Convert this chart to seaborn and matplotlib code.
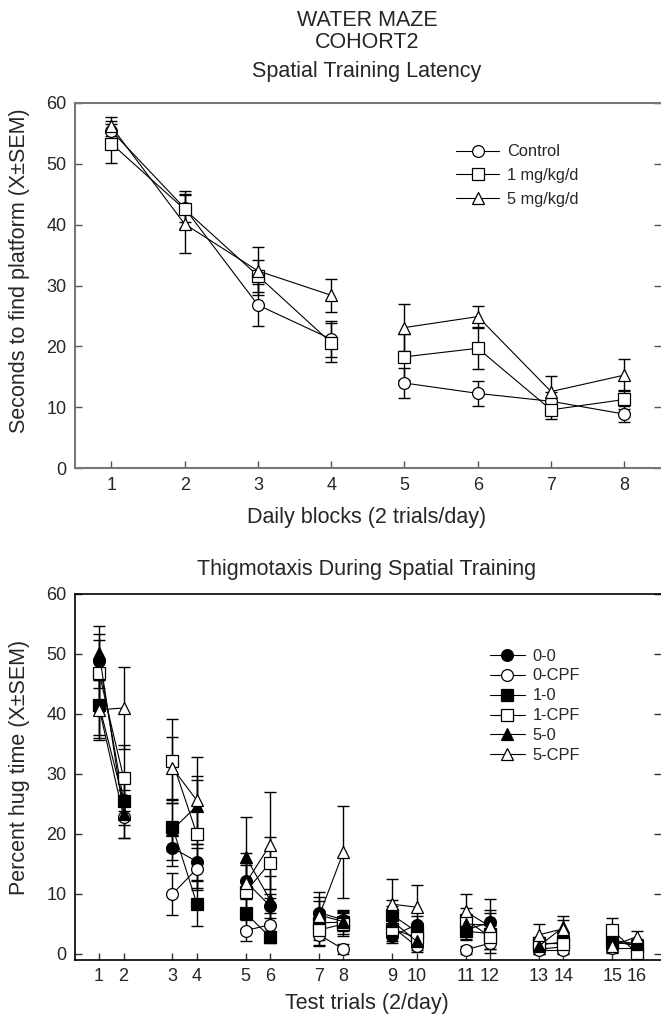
import numpy as np
import pandas as pd
import matplotlib
matplotlib.use("Agg")
import matplotlib.pyplot as plt
from matplotlib.lines import Line2D
import seaborn as sns

# ---------------- data ----------------
blocks = [1, 2, 3, 4, 5, 6, 7, 8]
lat_groups = ["Control", "1 mg/kg/d", "5 mg/kg/d"]
control_mean = [55.4, 42.7, 26.8, 21.2, 14.0, 12.3, 11.0, 8.9]
control_sem = [1.6, 2.3, 3.4, 2.9, 2.4, 2.0, 1.6, 1.3]
mg1_mean = [53.3, 42.5, 31.6, 20.6, 18.3, 19.7, 9.6, 11.3]
mg1_sem = [3.2, 3.0, 2.6, 3.2, 3.8, 3.4, 1.5, 1.6]
mg5_mean = [56.1, 40.1, 32.4, 28.4, 23.1, 24.9, 12.6, 15.3]
mg5_sem = [1.6, 4.7, 4.0, 2.7, 3.9, 1.7, 2.5, 2.6]

trials = list(range(1, 17))
hug_groups = ["0-0", "0-CPF", "1-0", "1-CPF", "5-0", "5-CPF"]
hug_00 = [48.8, 25.6, 17.7, 15.4, 12.1, 8.0, 6.9, 5.7, 3.0, 4.9, 4.0, 5.3, 0.8, 1.2, 2.3, 1.7]
hug_00_sem = [4.5, 3.0, 3.0, 3.0, 3.0, 2.0, 2.0, 1.5, 1.2, 1.5, 1.5, 2.0, 0.8, 1.0, 1.0, 0.8]
hug_0c = [41.0, 22.9, 10.0, 14.2, 3.9, 4.9, 3.2, 0.8, 4.5, 1.3, 0.7, 1.8, 0.6, 0.6, 1.0, 1.0]
hug_0c_sem = [5.0, 3.5, 3.5, 3.5, 1.8, 2.0, 1.8, 0.8, 1.5, 1.0, 0.7, 1.0, 0.6, 0.6, 0.8, 0.8]
hug_10 = [41.5, 25.5, 21.2, 8.4, 6.8, 2.8, 5.2, 5.3, 6.5, 3.7, 3.8, 3.4, 1.5, 2.0, 2.1, 1.4]
hug_10_sem = [5.0, 4.0, 4.0, 3.8, 2.5, 1.0, 2.0, 1.5, 2.5, 1.5, 1.5, 1.5, 0.8, 1.0, 1.0, 0.8]
hug_1c = [46.8, 29.4, 32.1, 20.0, 10.4, 15.2, 4.0, 5.0, 4.2, 2.7, 5.7, 2.9, 1.8, 1.7, 4.0, 0.2]
hug_1c_sem = [5.5, 5.5, 7.0, 9.0, 4.5, 4.3, 2.5, 2.0, 2.0, 1.5, 2.0, 2.0, 1.0, 1.0, 2.0, 0.5]
hug_50 = [50.2, 23.4, 20.7, 24.7, 16.2, 9.0, 6.5, 5.4, 5.5, 2.1, 5.0, 4.8, 1.3, 4.5, 1.9, 1.6]
hug_50_sem = [4.5, 4.0, 5.0, 5.0, 6.7, 4.0, 3.0, 2.0, 2.5, 1.5, 1.5, 2.0, 1.0, 1.8, 1.0, 0.8]
hug_5c = [40.7, 41.0, 31.0, 25.6, 11.8, 18.2, 6.3, 17.0, 8.3, 7.8, 7.1, 4.6, 3.2, 4.2, 1.3, 2.9]
hug_5c_sem = [5.0, 6.8, 5.2, 7.3, 5.0, 8.8, 4.0, 7.7, 4.2, 3.7, 2.9, 4.5, 1.8, 1.5, 1.0, 1.0]

# ---------------- style ----------------
sns.set_style("ticks")
plt.rcParams["font.family"] = ["Liberation Sans", "DejaVu Sans"]

fig = plt.figure(figsize=(6.61, 10.19), dpi=100)
ax1 = fig.add_axes([0.113, 0.5404, 0.887, 0.3588])
ax2 = fig.add_axes([0.113, 0.0579, 0.887, 0.3592])

MS = 8.5
LW = 0.8
CAP = 4
TICK_FS = 13
TXT_FS = 15.5
LEG_FS = 11.8
YLAB_FS = 15.5

# ---------------- top chart ----------------
lat_means = [control_mean, mg1_mean, mg5_mean]
lat_sems = [control_sem, mg1_sem, mg5_sem]
lat_markers = ["o", "s", "^"]
handles1 = []
for g, m, s, mk in zip(lat_groups, lat_means, lat_sems, lat_markers):
    df = pd.DataFrame({"block": blocks, "val": m, "sem": s})
    df["seg"] = np.where(df["block"] <= 4, 0, 1)
    ax1.errorbar(df["block"], df["val"], yerr=df["sem"], fmt="none",
                 ecolor="black", elinewidth=1.0, capsize=CAP, capthick=1.0, zorder=2)
    sns.lineplot(data=df, x="block", y="val", units="seg", estimator=None,
                 color="black", lw=LW, marker=mk, markersize=MS,
                 markerfacecolor="white", markeredgecolor="black",
                 markeredgewidth=0.9, ax=ax1, zorder=3)
    handles1.append(Line2D([], [], color="black", lw=LW, marker=mk, markersize=MS,
                           markerfacecolor="white", markeredgecolor="black",
                           markeredgewidth=0.9, label=g))

ax1.set_xlim(0.5, 8.5)
ax1.set_ylim(0, 60)
ax1.set_xticks(blocks)
ax1.set_yticks(range(0, 61, 10))
ax1.set_xlabel("")
ax1.set_ylabel("Seconds to find platform (X±SEM)", fontsize=YLAB_FS)
ax1.yaxis.set_label_coords(-0.076, 0.541)
for sp in ["left", "bottom", "top"]:
    ax1.spines[sp].set_color("#777777")
    ax1.spines[sp].set_linewidth(1.5)
ax1.spines["right"].set_visible(False)
ax1.tick_params(axis="both", direction="in", length=5, width=1.0,
                color="#555555", labelsize=TICK_FS, pad=6)
ax1.tick_params(axis="y", right=True)
ax1.legend(handles=handles1, loc="upper left", bbox_to_anchor=(0.651, 0.886),
           frameon=False, fontsize=LEG_FS, handlelength=2.6, handletextpad=0.47,
           labelspacing=0.53, borderpad=0, borderaxespad=0)

# ---------------- bottom chart ----------------
tr = np.array(trials)
pos = 3 * ((tr - 1) // 2) + (tr - 1) % 2
day = (tr - 1) // 2
hug_means = [hug_00, hug_0c, hug_10, hug_1c, hug_50, hug_5c]
hug_sems = [hug_00_sem, hug_0c_sem, hug_10_sem, hug_1c_sem, hug_50_sem, hug_5c_sem]
hug_markers = ["o", "o", "s", "s", "^", "^"]
hug_fill = ["black", "white", "black", "white", "black", "white"]
handles2 = []
for g, m, s, mk, fc in zip(hug_groups, hug_means, hug_sems, hug_markers, hug_fill):
    df = pd.DataFrame({"pos": pos, "day": day, "val": m, "sem": s})
    ax2.errorbar(df["pos"], df["val"], yerr=df["sem"], fmt="none",
                 ecolor="black", elinewidth=1.0, capsize=CAP, capthick=1.0, zorder=2)
    sns.lineplot(data=df, x="pos", y="val", units="day", estimator=None,
                 color="black", lw=LW, marker=mk, markersize=MS,
                 markerfacecolor=fc, markeredgecolor="black",
                 markeredgewidth=0.9, ax=ax2, zorder=3)
    handles2.append(Line2D([], [], color="black", lw=LW, marker=mk, markersize=MS,
                           markerfacecolor=fc, markeredgecolor="black",
                           markeredgewidth=0.9, label=g))

ax2.set_xlim(-1, 23)
ax2.set_ylim(-1, 60)
ax2.set_xticks(pos)
ax2.set_xticklabels([str(t) for t in trials])
ax2.set_yticks(range(0, 61, 10))
ax2.set_xlabel("")
ax2.set_ylabel("Percent hug time (X±SEM)", fontsize=YLAB_FS)
ax2.yaxis.set_label_coords(-0.076, 0.525)
for sp in ["left", "bottom", "top"]:
    ax2.spines[sp].set_color("black")
    ax2.spines[sp].set_linewidth(1.2)
ax2.spines["right"].set_visible(False)
ax2.tick_params(axis="both", direction="in", length=5, width=1.0,
                color="#333333", labelsize=TICK_FS, pad=6)
ax2.tick_params(axis="y", right=True)
ax2.legend(handles=handles2, loc="upper left", bbox_to_anchor=(0.708, 0.851),
           frameon=False, fontsize=LEG_FS, handlelength=2.15, handletextpad=0.47,
           labelspacing=0.3, borderpad=0, borderaxespad=0)

# ---------------- texts ----------------
cx = 0.555
fig.text(cx, 1 - 21 / 1019, "WATER MAZE", ha="center", va="center", fontsize=TXT_FS)
fig.text(cx, 1 - 42 / 1019, "COHORT2", ha="center", va="center", fontsize=TXT_FS)
fig.text(cx, 1 - 71 / 1019, "Spatial Training Latency", ha="center", va="center", fontsize=TXT_FS)
fig.text(cx, 1 - 517 / 1019, "Daily blocks (2 trials/day)", ha="center", va="center", fontsize=TXT_FS)
fig.text(cx, 1 - 570 / 1019, "Thigmotaxis During Spatial Training", ha="center", va="center", fontsize=TXT_FS)
fig.text(cx, 1 - 1004 / 1019, "Test trials (2/day)", ha="center", va="center", fontsize=TXT_FS)

fig.savefig("out.png", dpi=100)
